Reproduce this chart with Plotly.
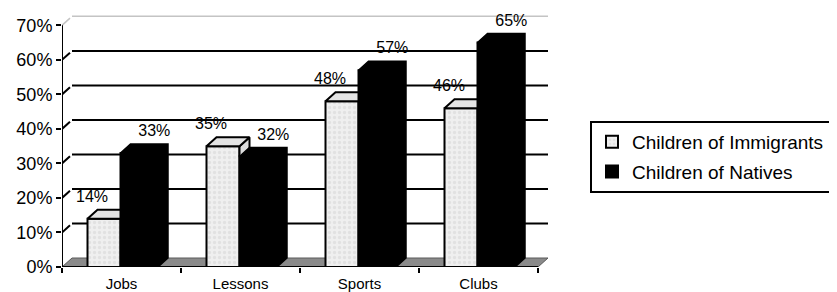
import plotly.graph_objects as go

# ---------------- data ----------------
categories = ["Jobs", "Lessons", "Sports", "Clubs"]
immigrants = [0.14, 0.35, 0.48, 0.46]
natives = [0.33, 0.32, 0.57, 0.65]
series_names = ["Children of Immigrants", "Children of Natives"]
y_tick_values = [0.0, 0.1, 0.2, 0.3, 0.4, 0.5, 0.6, 0.7]
y_tick_labels = ["0%", "10%", "20%", "30%", "40%", "50%", "60%", "70%"]

# ---------------- geometry (pixel constants -> axis units) ----------------
PX = 119.0       # pixels per category
PY = 345.2       # pixels per 1.0 (100%)
DX = 10 / PX     # 3D depth offset x
DY = 9 / PY      # 3D depth offset y
IMM_L, IMM_R = 25.5 / PX, 58.5 / PX
NAT_L, NAT_R = 58.5 / PX, 96.0 / PX
n = len(categories)
centers = [i + 0.5 for i in range(n)]
FONT = "Arial, Liberation Sans, sans-serif"

fig = go.Figure()

# front faces as bars
fig.add_trace(go.Bar(
    x=centers, y=immigrants, name=series_names[0],
    offset=IMM_L - 0.5, width=IMM_R - IMM_L,
    marker=dict(color="#efefef", line=dict(color="black", width=2),
                pattern=dict(shape=".", fgcolor="#d4d4d4", size=5, solidity=0.35, fillmode="overlay")),
    legendgroup="a", hoverinfo="skip",
))
fig.add_trace(go.Bar(
    x=centers, y=natives, name=series_names[1],
    offset=NAT_L - 0.5, width=NAT_R - NAT_L,
    marker=dict(color="black", line=dict(color="black", width=2)),
    legendgroup="b", hoverinfo="skip",
))

# 3D faces of immigrant bars
for i, (v, nv) in enumerate(zip(immigrants, natives)):
    x0, x1 = i + IMM_L, i + IMM_R
    if nv > v:
        xs = [x0, x1, x1, x0 + DX, x0]
        ys = [v, v, v + DY, v + DY, v]
    else:
        # side face above the natives bar
        fig.add_trace(go.Scatter(
            x=[x1, x1, x1 + DX, x1 + DX, x1], y=[nv, v, v + DY, nv, nv],
            mode="lines", fill="toself", fillcolor="#dedede",
            line=dict(color="black", width=2), showlegend=False, hoverinfo="skip"))
        xs = [x0, x1, x1 + DX, x0 + DX, x0]
        ys = [v, v, v + DY, v + DY, v]
    fig.add_trace(go.Scatter(
        x=xs, y=ys, mode="lines", fill="toself", fillcolor="#e4e4e4",
        line=dict(color="black", width=2), showlegend=False, hoverinfo="skip"))

# 3D faces of natives bars (top + side, all black)
for i, v in enumerate(natives):
    x1, x2 = i + NAT_L, i + NAT_R
    fig.add_trace(go.Scatter(
        x=[x1, x2, x2 + DX, x2 + DX, x2, x1 + DX, x1, x1],
        y=[v, 0, DY, v + DY, v + DY, v + DY, v, v],
        mode="lines", fill="toself", fillcolor="black",
        line=dict(color="black", width=1.5), showlegend=False, hoverinfo="skip"))

# data labels
lab_dy = DY + 12 / PY
fig.add_trace(go.Scatter(
    x=[i + (IMM_L + IMM_R) / 2 - 12 / PX for i in range(n)],
    y=[v + lab_dy for v in immigrants],
    text=[f"{round(v * 100)}%" for v in immigrants],
    mode="text", textfont=dict(family=FONT, size=16, color="black"),
    showlegend=False, hoverinfo="skip", cliponaxis=False))
fig.add_trace(go.Scatter(
    x=[i + (NAT_L + NAT_R) / 2 + 15 / PX for i in range(n)],
    y=[v + lab_dy for v in natives],
    text=[f"{round(v * 100)}%" for v in natives],
    mode="text", textfont=dict(family=FONT, size=16, color="black"),
    showlegend=False, hoverinfo="skip", cliponaxis=False))

# ---------------- walls, floor, gridlines ----------------
shapes = []
# floor
shapes.append(dict(type="path", xref="x", yref="y", layer="below",
                   path=f"M 0 0 L {n} 0 L {n + DX} {DY} L {DX} {DY} Z",
                   fillcolor="#8a8a8a", line=dict(color="#5a5a5a", width=1)))
for v in y_tick_values[1:]:
    top = v == y_tick_values[-1]
    col = "#c4c4c4" if top else "black"
    w = 1.5 if top else 2
    shapes.append(dict(type="line", xref="x", yref="y", layer="below",
                       x0=DX, x1=n + DX, y0=v + DY, y1=v + DY,
                       line=dict(color=col, width=w)))
    shapes.append(dict(type="line", xref="x", yref="y", layer="below",
                       x0=0, x1=DX * 0.8, y0=v, y1=v + DY * 0.8,
                       line=dict(color=col, width=w)))
# axis lines
shapes.append(dict(type="line", xref="x", yref="y", layer="above",
                   x0=0, x1=0, y0=0, y1=y_tick_values[-1], line=dict(color="black", width=2)))
shapes.append(dict(type="line", xref="x", yref="y", layer="above",
                   x0=0, x1=n, y0=0, y1=0, line=dict(color="black", width=2)))

# page has an 8px body margin: figure coordinates = window coordinates - 8
OFF = 8
W, H = 837 - OFF, 292 - OFF
L = 62 - OFF
T = 10 - OFF
RIGHT = 560 - OFF
BOTTOM = 267 - OFF
plot_w = RIGHT - L
plot_h = BOTTOM - T

fig.update_layout(
    width=W, height=H,
    margin=dict(l=L, r=W - RIGHT, t=T, b=H - BOTTOM, pad=0, autoexpand=False),
    plot_bgcolor="white", paper_bgcolor="white",
    barmode="overlay",
    shapes=shapes,
    font=dict(family=FONT, color="black"),
    xaxis=dict(range=[0, plot_w / PX], tickvals=centers, ticktext=categories,
               ticks="outside", ticklen=3, tickcolor="rgba(0,0,0,0)",
               tickfont=dict(size=15), showgrid=False, zeroline=False, showline=False,
               minor=dict(tickvals=list(range(n + 1)), ticks="outside", ticklen=5,
                          tickwidth=2, tickcolor="black", showgrid=False),
               fixedrange=True, automargin=False),
    yaxis=dict(range=[0, plot_h / PY], tickvals=y_tick_values, ticktext=y_tick_labels,
               ticks="outside", ticklen=5, tickwidth=2, tickcolor="black",
               tickfont=dict(size=18), showgrid=False, zeroline=False, showline=False,
               fixedrange=True, automargin=False),
    legend=dict(x=(590 - OFF - L) / plot_w, y=1 - (121 - OFF - T) / plot_h,
                xanchor="left", yanchor="top",
                bordercolor="black", borderwidth=2, bgcolor="white",
                font=dict(size=19, family=FONT), tracegroupgap=2, itemwidth=30),
    showlegend=True,
)

fig.write_html("out.html")
